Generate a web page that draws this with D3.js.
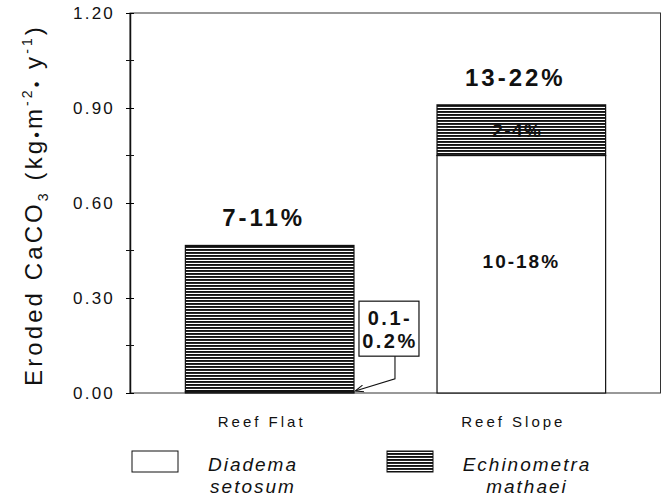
<!DOCTYPE html>
<html>
<head>
<meta charset="utf-8">
<script src="https://cdn.jsdelivr.net/npm/d3@7"></script>
<style>
  body { margin: 0; background: #fff; }
  svg { display: block; font-family: "Liberation Sans", Arial, sans-serif; }
</style>
</head>
<body>
<div id="chart"></div>
<script>
// data
const sites = ["Reef Flat", "Reef Slope"];
const diadema = [0.004, 0.75];       // Diadema setosum
const echinometra = [0.462, 0.16];   // Echinometra mathaei
const totalLabels = ["7-11%", "13-22%"];
const diademaLabels = ["0.1-0.2%", "10-18%"];
const echinoLabels = ["", "2-4%"];
const yTicks = [0, 0.3, 0.6, 0.9, 1.2];
const yMinor = [0.15, 0.45, 0.75, 1.05];

const width = 665, height = 498;
const margin = {top: 13, right: 4, bottom: 105, left: 130};

const svg = d3.select("#chart").append("svg")
  .attr("width", width)
  .attr("height", height);

// horizontal hatch
const defs = svg.append("defs");
const pat = defs.append("pattern")
  .attr("id", "hatch")
  .attr("patternUnits", "userSpaceOnUse")
  .attr("width", 8).attr("height", 3);
pat.append("rect").attr("width", 8).attr("height", 3).attr("fill", "#fff");
pat.append("rect").attr("width", 8).attr("height", 1.9).attr("fill", "#111");

const x = d3.scaleBand()
  .domain(sites)
  .range([margin.left, width - margin.right])
  .paddingInner(0.33)
  .paddingOuter(0.22);

const y = d3.scaleLinear()
  .domain([0, 1.2])
  .range([height - margin.bottom, margin.top]);

// frame
svg.append("rect")
  .attr("x", margin.left).attr("y", margin.top)
  .attr("width", width - margin.right - margin.left - 0.5)
  .attr("height", y(0) - margin.top)
  .attr("fill", "none").attr("stroke", "#333").attr("stroke-width", 1);

// bars
const stack = sites.map((s, i) => ({site: s, d: diadema[i], e: echinometra[i]}));

svg.selectAll("rect.dia")
  .data(stack).enter().append("rect")
  .attr("class", "dia")
  .attr("x", d => x(d.site))
  .attr("width", x.bandwidth())
  .attr("y", d => y(d.d))
  .attr("height", d => y(0) - y(d.d))
  .attr("fill", "#fff").attr("stroke", "#111").attr("stroke-width", 1.2);

svg.selectAll("rect.ech")
  .data(stack).enter().append("rect")
  .attr("class", "ech")
  .attr("x", d => x(d.site))
  .attr("width", x.bandwidth())
  .attr("y", d => y(d.d + d.e))
  .attr("height", d => y(d.d) - y(d.d + d.e))
  .attr("fill", "url(#hatch)").attr("stroke", "#111").attr("stroke-width", 1.2);

// y axis
const yAxis = d3.axisLeft(y)
  .tickValues(yTicks)
  .tickFormat(d3.format(".2f"))
  .tickSizeInner(4).tickSizeOuter(0).tickPadding(11);

const ya = svg.append("g")
  .attr("transform", `translate(${margin.left},0)`)
  .call(yAxis);
ya.select(".domain").attr("stroke", "#111").attr("stroke-width", 1.5);
ya.selectAll(".tick line").clone().attr("x2", 4);
ya.selectAll(".tick text")
  .attr("font-size", 17).attr("letter-spacing", 2.2)
  .attr("font-family", "Liberation Sans, Arial, sans-serif")
  .attr("fill", "#111");

svg.append("g").selectAll("line")
  .data(yMinor).enter().append("line")
  .attr("x1", margin.left - 4).attr("x2", margin.left + 4)
  .attr("y1", d => y(d)).attr("y2", d => y(d))
  .attr("stroke", "#111");

// y title
const yt = svg.append("text")
  .attr("transform", `translate(42,${(y(0) + y(1.2)) / 2 + 2}) rotate(-90)`)
  .attr("text-anchor", "middle")
  .attr("font-size", 24).attr("letter-spacing", 3.1)
  .attr("fill", "#111");
yt.append("tspan").text("Eroded  CaCO");
yt.append("tspan").attr("font-size", 14).attr("dy", 6).text("3");
yt.append("tspan").attr("dy", -6).text(" (kg");
yt.append("tspan").attr("font-size", 16).text("•");
yt.append("tspan").text("m");
yt.append("tspan").attr("font-size", 14).attr("dy", -10).text("-2");
yt.append("tspan").attr("dy", 10).attr("font-size", 16).text("•");
yt.append("tspan").text(" y");
yt.append("tspan").attr("font-size", 14).attr("dy", -10).text("-1");
yt.append("tspan").attr("dy", 10).text(")");

// x labels
svg.selectAll("text.xl")
  .data(sites).enter().append("text")
  .attr("class", "xl")
  .attr("x", d => x(d) + x.bandwidth() / 2 - 8)
  .attr("y", y(0) + 34)
  .attr("text-anchor", "middle")
  .attr("font-size", 15).attr("letter-spacing", 3)
  .attr("fill", "#111")
  .text(d => d.replace(" ", "  "));

// total labels
svg.selectAll("text.tot")
  .data(stack).enter().append("text")
  .attr("class", "tot")
  .attr("x", d => x(d.site) + x.bandwidth() / 2 - 6)
  .attr("y", d => y(d.d + d.e) - 19)
  .attr("text-anchor", "middle")
  .attr("font-size", 24).attr("font-weight", "bold").attr("letter-spacing", 3)
  .attr("fill", "#111")
  .text((d, i) => totalLabels[i]);

// inner labels (reef slope)
const cs = x("Reef Slope") + x.bandwidth() / 2;
svg.append("text")
  .attr("x", cs - 4).attr("y", y(diadema[1] + echinometra[1] / 2) + 7)
  .attr("text-anchor", "middle")
  .attr("font-size", 19).attr("font-weight", "bold").attr("letter-spacing", 1.5)
  .attr("fill", "#111")
  .text(echinoLabels[1]);
svg.append("text")
  .attr("x", cs).attr("y", y(0.395))
  .attr("text-anchor", "middle")
  .attr("font-size", 19).attr("font-weight", "bold").attr("letter-spacing", 2)
  .attr("fill", "#111")
  .text(diademaLabels[1]);

// callout for reef flat Diadema
const fr = x("Reef Flat") + x.bandwidth();
const box = {x: fr + 5, y: y(0.29), w: 60, h: 55};
svg.append("rect")
  .attr("x", box.x).attr("y", box.y)
  .attr("width", box.w).attr("height", box.h)
  .attr("fill", "#fff").attr("stroke", "#111").attr("stroke-width", 1.2);
const parts = diademaLabels[0].split("-");
svg.append("text")
  .attr("x", box.x + box.w / 2 + 1).attr("y", box.y + 24)
  .attr("text-anchor", "middle")
  .attr("font-size", 20).attr("font-weight", "bold").attr("letter-spacing", 2.5)
  .attr("fill", "#111").text(parts[0] + "-");
svg.append("text")
  .attr("x", box.x + box.w / 2 + 1).attr("y", box.y + 47)
  .attr("text-anchor", "middle")
  .attr("font-size", 20).attr("font-weight", "bold").attr("letter-spacing", 2.5)
  .attr("fill", "#111").text(parts[1]);

defs.append("marker")
  .attr("id", "arr")
  .attr("viewBox", "0 -5 10 10")
  .attr("refX", 9).attr("refY", 0)
  .attr("markerWidth", 8).attr("markerHeight", 8)
  .attr("orient", "auto")
  .append("path").attr("d", "M0,-4L10,0L0,4").attr("fill", "none").attr("stroke", "#111").attr("stroke-width", 1.2);

const tip = y(diadema[0]) - 1;
svg.append("path")
  .attr("d", `M${box.x + 36},${box.y + box.h} V${tip - 12} L${fr + 2},${tip}`)
  .attr("fill", "none").attr("stroke", "#111").attr("stroke-width", 1.1)
  .attr("marker-end", "url(#arr)");

// legend
const legend = [
  {fill: "#fff", lines: ["Diadema", "setosum"], x: 132, tx: 253},
  {fill: "url(#hatch)", lines: ["Echinometra", "mathaei"], x: 387, tx: 527}
];
const lg = svg.selectAll("g.leg").data(legend).enter().append("g").attr("class", "leg");
lg.append("rect")
  .attr("x", d => d.x).attr("y", 451)
  .attr("width", 46).attr("height", 21)
  .attr("fill", d => d.fill).attr("stroke", "#111").attr("stroke-width", 1);
lg.each(function(d) {
  const g = d3.select(this);
  d.lines.forEach((t, k) => {
    g.append("text")
      .attr("x", d.tx).attr("y", 471 + k * 22)
      .attr("text-anchor", "middle")
      .attr("font-size", 19).attr("font-style", "italic").attr("letter-spacing", 2)
      .attr("fill", "#111")
      .text(t);
  });
});
</script>
</body>
</html>
